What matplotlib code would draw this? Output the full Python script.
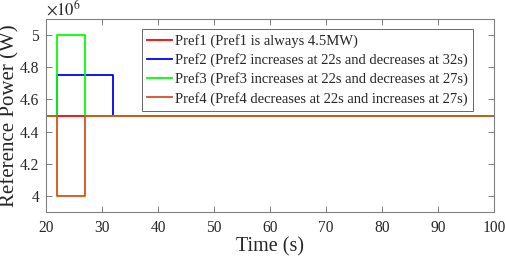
import matplotlib
matplotlib.use("Agg")
import matplotlib.pyplot as plt
from matplotlib.ticker import FuncFormatter

plt.rcParams['font.family'] = ['Liberation Serif', 'DejaVu Serif']
plt.rcParams['mathtext.fontset'] = 'stix'

# time breakpoints (s) and power values (W)
t1 = [20, 100]
p1 = [4.5e6, 4.5e6]
t2 = [20, 22, 22, 32, 32, 100]
p2 = [4.5e6, 4.5e6, 4.75e6, 4.75e6, 4.5e6, 4.5e6]
t3 = [20, 22, 22, 27, 27, 100]
p3 = [4.5e6, 4.5e6, 5.0e6, 5.0e6, 4.5e6, 4.5e6]
t4 = [20, 22, 22, 27, 27, 100]
p4 = [4.5e6, 4.5e6, 4.0e6, 4.0e6, 4.5e6, 4.5e6]

labels = ["Pref1 (Pref1 is always 4.5MW)",
          "Pref2 (Pref2 increases at 22s and decreases at 32s)",
          "Pref3 (Pref3 increases at 22s and decreases at 27s)",
          "Pref4 (Pref4 decreases at 22s and increases at 27s)"]
colors = ["#FF0000", "#0000FF", "#00FF00", "#D95319"]
xticks = [20, 30, 40, 50, 60, 70, 80, 90, 100]
yticks = [4.0e6, 4.2e6, 4.4e6, 4.6e6, 4.8e6, 5.0e6]

fig = plt.figure(figsize=(5.05, 2.57), dpi=100)
ax = fig.add_axes([46/505, 1 - 212/257, (494-46)/505, (212-19)/257])

for t, p, c, l in zip([t1, t2, t3, t4], [p1, p2, p3, p4], colors, labels):
    ax.plot(t, p, color=c, lw=1.3, label=l)

ax.set_xlim(20, 100)
ax.set_ylim(3.9e6, 5.1e6)
ax.set_xticks(xticks)
ax.set_yticks(yticks)
ax.yaxis.set_major_formatter(FuncFormatter(lambda v, pos: f"{v/1e6:g}"))
ax.tick_params(direction='in', top=True, right=True, labelsize=11.2, length=4, width=0.7,
               color='#808080', labelcolor='#262626')
ax.tick_params(axis='y', pad=5)
ax.tick_params(axis='x', pad=6)
for s in ax.spines.values():
    s.set_linewidth(0.8)
    s.set_color('#808080')
ax.set_xlabel("Time (s)", fontsize=14.5, labelpad=1, color='#262626')
ax.set_ylabel("Reference Power (W)", fontsize=15, color='#262626')
ax.yaxis.set_label_coords(-0.059, 0.5)
ax.text(0.0, 1 + 4/193, r"$\times 10^{6}$", transform=ax.transAxes, fontsize=12,
        ha='left', va='baseline', color='#262626')

leg = ax.legend(loc='upper right', bbox_to_anchor=(1 - 21/448, 1 - 10/193), fontsize=10.5,
                frameon=True, fancybox=False, edgecolor='#404040', handlelength=1.7,
                handletextpad=0.2, labelspacing=0.36, borderpad=0.35, borderaxespad=0)
leg.get_frame().set_linewidth(0.7)
for txt in leg.get_texts():
    txt.set_color('#262626')

fig.savefig("out.png", dpi=100)
